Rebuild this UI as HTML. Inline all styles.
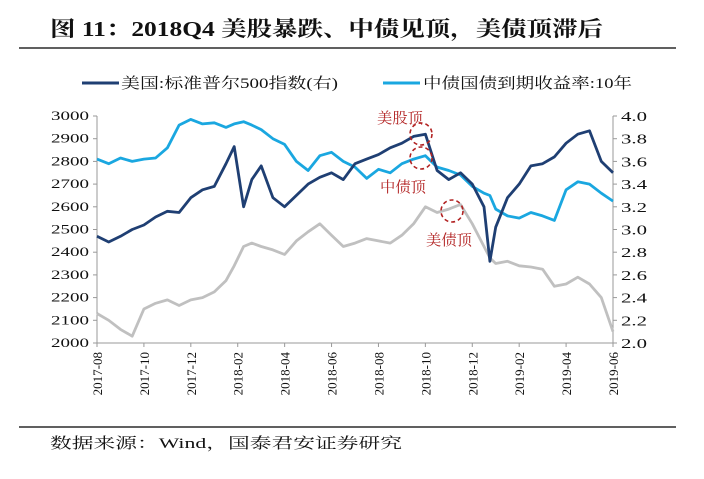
<!DOCTYPE html>
<html><head><meta charset="utf-8">
<style>
body{margin:0;background:#fff;width:704px;height:474px;overflow:hidden;font-family:"Liberation Serif","Noto Serif CJK SC",serif;}
svg text{font-family:"Liberation Serif","Noto Serif CJK SC",serif;}
</style></head>
<body>
<svg id="chart" width="704" height="474" xmlns="http://www.w3.org/2000/svg">
  <text x="50" y="36" font-size="21" font-weight="bold" fill="#111" textLength="553" lengthAdjust="spacingAndGlyphs">图 11：2018Q4 美股暴跌、中债见顶，美债顶滞后</text>
  <line x1="19" y1="48" x2="676" y2="48" stroke="#000" stroke-width="1.2"/>
  <g>
    <line x1="82" y1="83" x2="119" y2="83" stroke="#1f3f73" stroke-width="3"/>
    <text x="121" y="88" font-size="15" fill="#111" textLength="217" lengthAdjust="spacingAndGlyphs">美国:标准普尔500指数(右)</text>
    <line x1="383" y1="83" x2="420" y2="83" stroke="#1aa7e0" stroke-width="3"/>
    <text x="423" y="88" font-size="15" fill="#111" textLength="209" lengthAdjust="spacingAndGlyphs">中债国债到期收益率:10年</text>
  </g>
  <g id="axes"></g>
  <g id="series"></g>
  <g id="annot"></g>
  <line x1="19" y1="427" x2="676" y2="427" stroke="#000" stroke-width="1.2"/>
  <text x="50" y="448" font-size="15" fill="#111" textLength="352" lengthAdjust="spacingAndGlyphs">数据来源：Wind，国泰君安证券研究</text>
</svg>
<script>
const months = [0,0.5,1,1.5,2,2.5,3,3.5,4,4.5,5,5.5,5.85,6.25,6.6,7,7.5,8,8.5,9,9.5,10,10.5,11,11.5,12,12.5,13,13.5,14,14.5,15,15.5,16,16.5,16.75,17,17.5,18,18.5,19,19.5,20,20.5,21,21.5,22];
const sp500 = [2470,2445,2470,2500,2520,2555,2580,2575,2640,2675,2690,2790,2865,2600,2720,2780,2640,2600,2650,2700,2730,2750,2720,2790,2810,2830,2860,2880,2910,2920,2760,2720,2750,2700,2600,2360,2510,2640,2700,2780,2790,2820,2880,2920,2935,2800,2750];
const cn10y = [3.62,3.58,3.63,3.60,3.62,3.63,3.72,3.92,3.97,3.93,3.94,3.90,3.93,3.95,3.92,3.88,3.80,3.75,3.60,3.52,3.65,3.68,3.60,3.55,3.45,3.53,3.50,3.58,3.62,3.65,3.55,3.52,3.48,3.38,3.32,3.30,3.18,3.12,3.10,3.15,3.12,3.08,3.35,3.42,3.40,3.32,3.25];
const us10y = [2.26,2.20,2.12,2.06,2.30,2.35,2.38,2.33,2.38,2.40,2.45,2.55,2.68,2.85,2.88,2.85,2.82,2.78,2.90,2.98,3.05,2.95,2.85,2.88,2.92,2.90,2.88,2.95,3.05,3.20,3.15,3.18,3.22,3.05,2.85,2.75,2.70,2.72,2.68,2.67,2.65,2.50,2.52,2.58,2.52,2.40,2.10];
const leftTicks = [2000,2100,2200,2300,2400,2500,2600,2700,2800,2900,3000];
const rightTicks = [2.0,2.2,2.4,2.6,2.8,3.0,3.2,3.4,3.6,3.8,4.0];
const xTickLabels = ["2017-08","2017-10","2017-12","2018-02","2018-04","2018-06","2018-08","2018-10","2018-12","2019-02","2019-04","2019-06"];

const X0=97,X1=613,Y0=343,Y1=116;
const NS="http://www.w3.org/2000/svg";
const x = m => X0 + (m/22)*(X1-X0);
const yL = v => Y0 - (v-2000)/1000*(Y0-Y1);
const yR = v => Y0 - (v-2.0)/2.0*(Y0-Y1);
function mk(tag, attrs, parent){const e=document.createElementNS(NS,tag);for(const k in attrs)e.setAttribute(k,attrs[k]);parent.appendChild(e);return e;}
const axes=document.getElementById('axes');
let e;
e=mk('line',{x1:X0,y1:Y1,x2:X0,y2:Y0,stroke:'#999','stroke-width':1},axes);


e=mk('line',{x1:X1,y1:Y1,x2:X1,y2:Y0,stroke:'#999','stroke-width':1},axes);


e=mk('line',{x1:X0,y1:Y0,x2:X1,y2:Y0,stroke:'#999','stroke-width':1},axes);


leftTicks.forEach(v=>{
  const yy=yL(v);
  mk('line',{x1:X0-4,y1:yy,x2:X0,y2:yy,stroke:'#999'},axes);
  const t=mk('text',{x:X0-8,y:yy+4,'font-size':13,'text-anchor':'end',fill:'#111',textLength:38,lengthAdjust:'spacingAndGlyphs'},axes);
  t.textContent=v;
  
  
});
rightTicks.forEach(v=>{
  const yy=yR(v);
  mk('line',{x1:X1,y1:yy,x2:X1+4,y2:yy,stroke:'#999'},axes);
  const t=mk('text',{x:X1+8,y:yy+5,'font-size':14,fill:'#111',textLength:26,lengthAdjust:'spacingAndGlyphs'},axes);
  t.textContent=v.toFixed(1);
  
  
});
xTickLabels.forEach((s,i)=>{
  const xx=x(i*2);
  mk('line',{x1:xx,y1:Y0,x2:xx,y2:Y0+4,stroke:'#999'},axes);
  const t=mk('text',{x:0,y:0,'font-size':13,'text-anchor':'end',fill:'#111',transform:`translate(${xx+5},${Y0+9}) rotate(-90)`},axes);
  t.textContent=s;
  
  
});
const ser=document.getElementById('series');
function line(vals, yf, color, name){
  const d=vals.map((v,i)=>(i?'L':'M')+x(months[i]).toFixed(1)+','+yf(v).toFixed(1)).join('');
  const p=mk('path',{d:d,fill:'none',stroke:color,'stroke-width':2.8,'stroke-linejoin':'round'},ser);
  
  
}
line(us10y,yR,'#c0c0c0','us10y-line');
line(cn10y,yR,'#1aa7e0','cn10y-line');
line(sp500,yL,'#1f3f73','sp500-line');
const an=document.getElementById('annot');
[[421,134,'us-stock-top-circle'],[421,158,'cn-bond-top-circle'],[452,211,'us-bond-top-circle']].forEach(c=>{
  const ci=mk('circle',{cx:c[0],cy:c[1],r:11,fill:'none',stroke:'#b22222','stroke-width':1.6,'stroke-dasharray':'4,3'},an);
  
  
});
[[377,123,'美股顶','us-stock-top-label'],[380,192,'中债顶','cn-bond-top-label'],[426,245,'美债顶','us-bond-top-label']].forEach(a=>{
  const t=mk('text',{x:a[0],y:a[1],'font-size':15,fill:'#b22222',textLength:46,lengthAdjust:'spacingAndGlyphs'},an);
  t.textContent=a[2];
  
  
});
</script>
</body></html>
